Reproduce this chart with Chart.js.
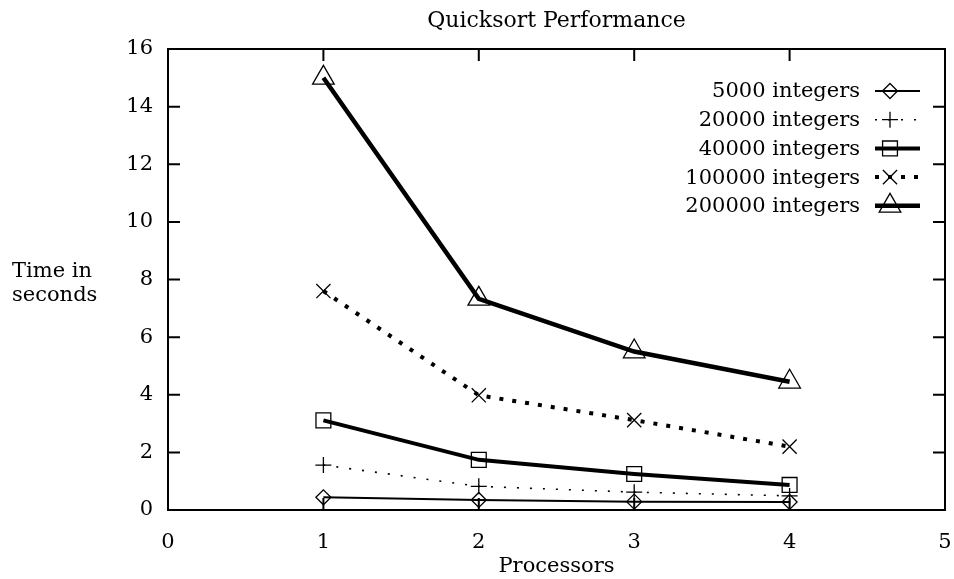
<!DOCTYPE html>
<html>
<head>
<meta charset="utf-8">
<script src="https://cdn.jsdelivr.net/npm/chart.js@4/dist/chart.umd.min.js"></script>
<style>
  html, body { margin: 0; padding: 0; background: #fff; overflow: hidden; }
  #wrap { width: 954px; height: 579px; position: relative; }
  canvas { display: block; }
</style>
</head>
<body>
<div id="wrap"><canvas id="c"></canvas></div>
<script>
const chartTitle = "Quicksort Performance";
const xTitle = "Processors";
const yTitleLines = ["Time in", "seconds"];
const processors = [1, 2, 3, 4];
const seriesLabels = ["5000 integers", "20000 integers", "40000 integers", "100000 integers", "200000 integers"];
const s5000   = [0.44, 0.35, 0.29, 0.28];
const s20000  = [1.56, 0.82, 0.62, 0.49];
const s40000  = [3.11, 1.74, 1.25, 0.87];
const s100000 = [7.60, 3.98, 3.12, 2.20];
const s200000 = [15.0, 7.33, 5.50, 4.45];

const FONT = "'DejaVu Serif', 'Liberation Serif', serif";
const FS = 21;

const styles = [
  { w: 2,   dash: [],      pt: 'rectRot',  r: 7.5 },
  { w: 1.6, dash: [2, 11], pt: 'cross',    r: 8 },
  { w: 4,   dash: [],      pt: 'rect',     r: 10.5 },
  { w: 4,   dash: [4, 9],  pt: 'crossRot', r: 10 },
  { w: 4.5, dash: [],      pt: 'triangle', r: 12.5 }
];
const allSeries = [s5000, s20000, s40000, s100000, s200000];

const datasets = allSeries.map((vals, i) => ({
  label: seriesLabels[i],
  data: processors.map((p, j) => ({ x: p, y: vals[j] })),
  borderColor: '#000',
  borderWidth: styles[i].w,
  borderDash: styles[i].dash,
  borderCapStyle: 'butt',
  pointStyle: styles[i].pt,
  pointRadius: styles[i].r,
  pointBorderWidth: 1.3,
  pointBorderColor: '#000',
  pointBackgroundColor: 'rgba(0,0,0,0)',
  tension: 0,
  fill: false,
  clip: false
}));

const framePlugin = {
  id: 'frame',
  beforeDatasetsDraw(chart) {
    const { ctx, chartArea: a, scales } = chart;
    ctx.save();
    ctx.strokeStyle = '#000';
    ctx.lineWidth = 2;
    const tl = 12;
    ctx.beginPath();
    scales.y.ticks.forEach(t => {
      const y = scales.y.getPixelForValue(t.value);
      ctx.moveTo(a.left, y); ctx.lineTo(a.left + tl, y);
      ctx.moveTo(a.right, y); ctx.lineTo(a.right - tl, y);
    });
    scales.x.ticks.forEach(t => {
      const x = scales.x.getPixelForValue(t.value);
      ctx.moveTo(x, a.bottom); ctx.lineTo(x, a.bottom - tl);
      ctx.moveTo(x, a.top); ctx.lineTo(x, a.top + tl);
    });
    ctx.stroke();
    ctx.strokeRect(a.left, a.top, a.right - a.left, a.bottom - a.top);
    ctx.fillStyle = '#000';
    // chart title, centred over the plot area
    ctx.font = '22px ' + FONT;
    ctx.textAlign = 'center';
    ctx.textBaseline = 'alphabetic';
    ctx.fillText(chartTitle, (a.left + a.right) / 2, a.top - 22);
    // y title (horizontal, two lines)
    ctx.font = FS + 'px ' + FONT;
    ctx.textAlign = 'left';
    const cy = (a.top + a.bottom) / 2;
    ctx.fillText(yTitleLines[0], 12, cy - 3);
    ctx.fillText(yTitleLines[1], 12, cy + 21);
    ctx.restore();
  },
  afterDatasetsDraw(chart) {
    const { ctx, chartArea: a } = chart;
    ctx.save();
    const textRight = a.right - 85;
    const lineStart = a.right - 70;
    const lineEnd = a.right - 25;
    const markX = a.right - 55;
    const top = a.top + 42;
    const step = 28.7;
    chart.data.datasets.forEach((ds, i) => {
      const y = top + i * step;
      ctx.fillStyle = '#000';
      ctx.font = FS + 'px ' + FONT;
      ctx.textAlign = 'right';
      ctx.textBaseline = 'middle';
      ctx.fillText(ds.label, textRight, y + 1);
      ctx.strokeStyle = '#000';
      ctx.lineWidth = ds.borderWidth;
      ctx.setLineDash(ds.borderDash);
      ctx.lineCap = 'butt';
      ctx.beginPath();
      ctx.moveTo(lineStart, y);
      ctx.lineTo(lineEnd, y);
      ctx.stroke();
      ctx.setLineDash([]);
      ctx.lineWidth = ds.pointBorderWidth;
      ctx.fillStyle = 'rgba(0,0,0,0)';
      Chart.helpers.drawPoint(ctx, {
        pointStyle: ds.pointStyle,
        radius: ds.pointRadius,
        rotation: 0,
        borderWidth: ds.pointBorderWidth
      }, markX, y);
    });
    ctx.restore();
  }
};

new Chart(document.getElementById('c'), {
  type: 'line',
  data: { datasets },
  options: {
    responsive: true,
    maintainAspectRatio: false,
    animation: false,
    events: [],
    layout: { autoPadding: false, padding: { left: 0, right: 9, top: 49, bottom: 0 } },
    plugins: {
      legend: { display: false },
      tooltip: { enabled: false },
      title: { display: false }
    },
    scales: {
      x: {
        type: 'linear',
        min: 0, max: 5,
        grid: { display: false, drawTicks: false },
        border: { display: false },
        ticks: { stepSize: 1, color: '#000', padding: 20, font: { family: FONT, size: FS } },
        title: { display: true, text: xTitle, color: '#000', padding: { top: 0, bottom: 0 }, font: { family: FONT, size: FS, lineHeight: 1.2 } },
        afterFit(s) { s.height = 69; s.paddingLeft = 0; s.paddingRight = 0; }
      },
      y: {
        min: 0, max: 16,
        grid: { display: false, drawTicks: false },
        border: { display: false },
        ticks: { stepSize: 2, color: '#000', padding: 15, font: { family: FONT, size: FS } },
        afterFit(s) { s.width = 168; }
      }
    }
  },
  plugins: [framePlugin]
});
</script>
</body>
</html>
